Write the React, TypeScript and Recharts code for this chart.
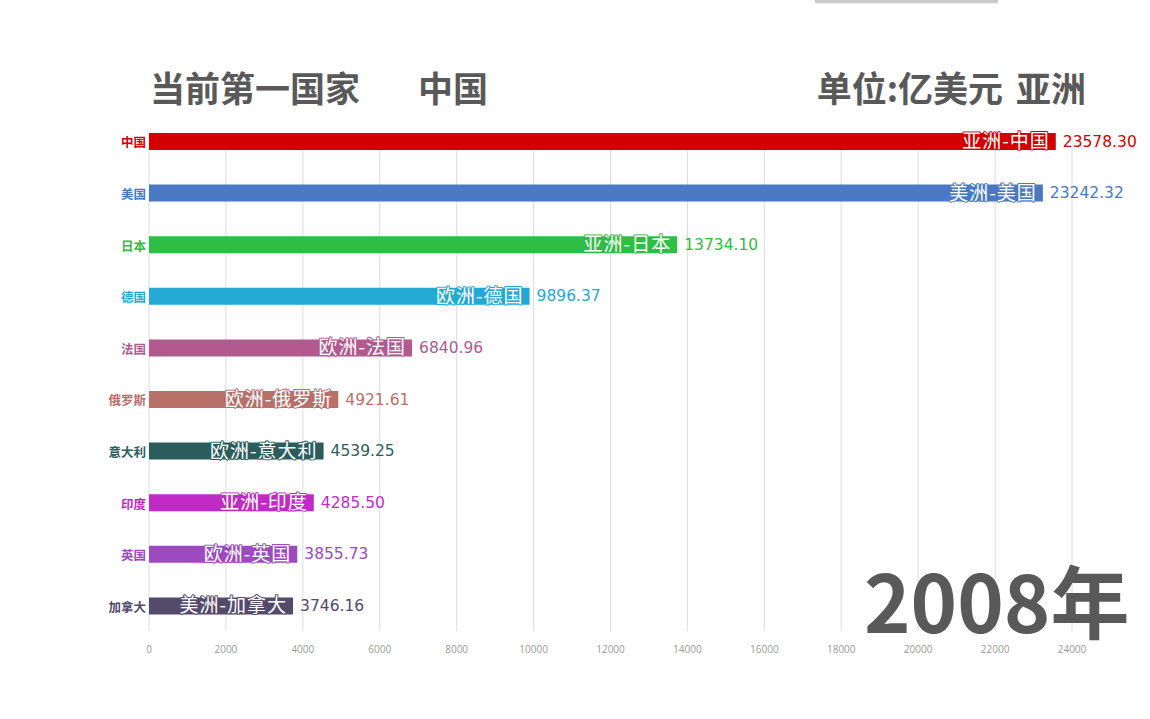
import React from 'react';
import { BarChart, Bar, XAxis, YAxis, CartesianGrid, Cell, LabelList } from 'recharts';

const countries = ['中国', '美国', '日本', '德国', '法国', '俄罗斯', '意大利', '印度', '英国', '加拿大'];
const continents = ['亚洲', '美洲', '亚洲', '欧洲', '欧洲', '欧洲', '欧洲', '亚洲', '欧洲', '美洲'];
const gdp = [23578.3, 23242.32, 13734.1, 9896.37, 6840.96, 4921.61, 4539.25, 4285.5, 3855.73, 3746.16];
const colors = ['#d20000', '#4a78c3', '#2ebd45', '#23a9d4', '#b25a8f', '#b8706a', '#2c5d5d', '#c22ac8', '#9d49bf', '#544a6c'];
const xTicks = [0, 2000, 4000, 6000, 8000, 10000, 12000, 14000, 16000, 18000, 20000, 22000, 24000];

const year = '2008年';
const leader = '中国';
const unitText = '单位:亿美元 亚洲';

const data = countries.map((name, i) => ({
  name,
  value: gdp[i],
  tag: `${continents[i]}-${name}`,
  color: colors[i],
}));

const CJK = '"Noto Sans CJK SC", "Noto Sans", sans-serif';

const CountryTick = (props: any) => {
  const { x, y, payload, index } = props;
  return (
    <text x={x} y={y} textAnchor="end" dominantBaseline="central" fontSize={12.5} fontWeight="bold"
      fontFamily={CJK} fill={colors[index] ?? '#333'}>
      {payload.value}
    </text>
  );
};

const InsideTag = (props: any) => {
  const { x, y, width, height, index } = props;
  const d = data[index];
  return (
    <text x={x + width - 6} y={y + height / 2 - 2} textAnchor="end" dominantBaseline="central"
      fontSize={19} letterSpacing={1} fontFamily={CJK} fill="#fff" stroke={d.color} strokeWidth={2}
      paintOrder="stroke" strokeLinejoin="round">
      {d.tag}
    </text>
  );
};

const ValueTag = (props: any) => {
  const { x, y, width, height, index } = props;
  const d = data[index];
  return (
    <text x={x + width + 7} y={y + height / 2} dominantBaseline="central"
      fontSize={15.5} fontFamily='"DejaVu Sans", sans-serif' fill={d.color}>
      {d.value.toFixed(2)}
    </text>
  );
};

export default function App() {
  return (
    <div style={{ position: 'absolute', left: 0, top: 0, width: 1150, height: 719, background: '#fff', overflow: 'hidden' }}>
      <div style={{ position: 'absolute', left: 815, top: 0, width: 183, height: 2, background: '#c8c8c8', boxShadow: '0 1px 2px #bbb' }} />
      <div style={{ position: 'absolute', left: 150, top: 67, fontFamily: CJK, fontWeight: 'bold', fontSize: 35, lineHeight: '40px', color: '#595959', whiteSpace: 'pre' }}>
        当前第一国家
      </div>
      <div style={{ position: 'absolute', left: 418, top: 67, fontFamily: CJK, fontWeight: 'bold', fontSize: 35, lineHeight: '40px', color: '#595959' }}>
        {leader}
      </div>
      <div style={{ position: 'absolute', right: 64, top: 67, fontFamily: CJK, fontWeight: 'bold', fontSize: 35, lineHeight: '40px', color: '#595959', whiteSpace: 'pre', wordSpacing: 5 }}>
        {unitText}
      </div>
      <BarChart
        width={1150}
        height={719}
        data={data}
        layout="vertical"
        margin={{ top: 116, right: 78, bottom: 57, left: 0 }}
        barCategoryGap={0}
      >
        <CartesianGrid horizontal={false} stroke="#dcdcdc" y={133} height={498} />
        <XAxis type="number" domain={[0, 24000]} ticks={xTicks} axisLine={false} tickLine={false} height={30}
          tick={{ fontSize: 10, fill: '#999', fontFamily: '"Open Sans", sans-serif' }} tickMargin={8} interval={0} />
        <YAxis type="category" dataKey="name" width={149} axisLine={false} tickLine={false}
          tickSize={0} tickMargin={3} tick={<CountryTick />} interval={0} />
        <Bar dataKey="value" barSize={17} isAnimationActive={false}>
          {data.map((d) => (
            <Cell key={d.name} fill={d.color} />
          ))}
          <LabelList dataKey="tag" content={<InsideTag />} />
          <LabelList dataKey="value" content={<ValueTag />} />
        </Bar>
      </BarChart>
      <div style={{ position: 'absolute', left: 864, top: 551, fontFamily: CJK, fontWeight: 'bold', fontSize: 79, lineHeight: '95px', color: '#595959' }}>
        {year}
      </div>
    </div>
  );
}
